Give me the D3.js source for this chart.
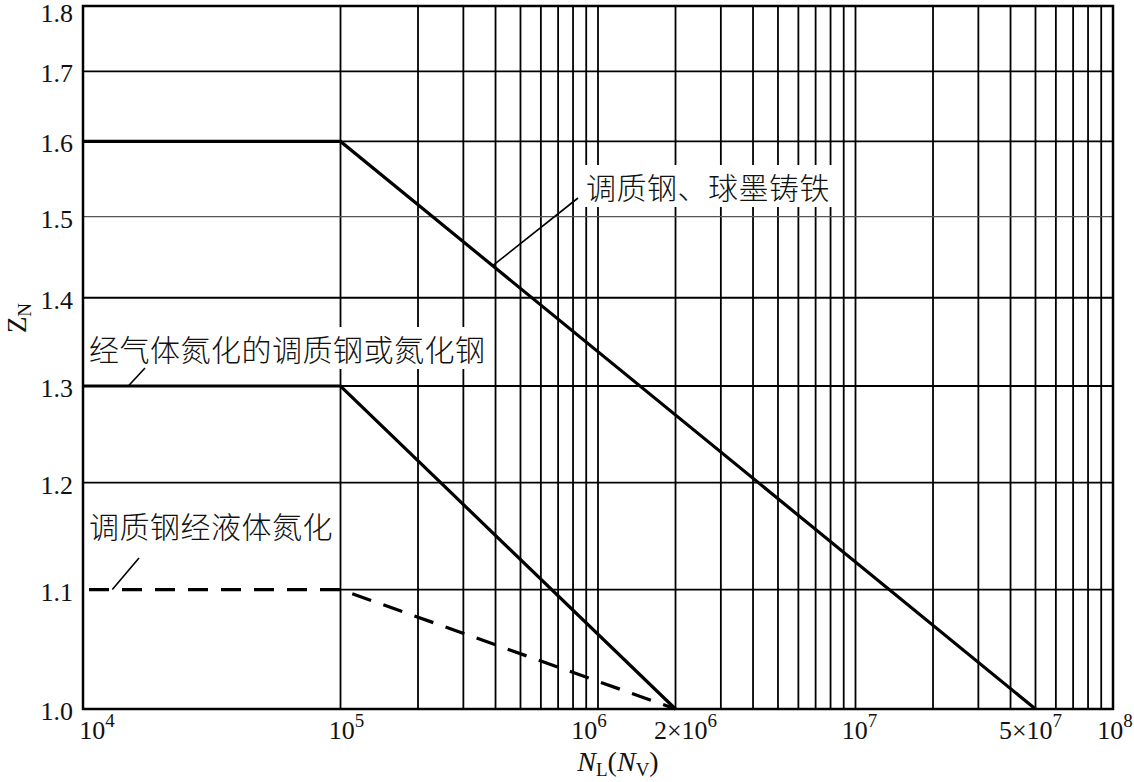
<!DOCTYPE html>
<html><head><meta charset="utf-8">
<script src="https://cdn.jsdelivr.net/npm/d3@7"></script>
<style>
html,body{margin:0;padding:0;background:#fff;}
svg{display:block;}
</style></head>
<body>
<svg id="chart" width="1134" height="782"></svg>
<script>
// ---- data ----
const xDomain = [1e4, 1e8];
const yDomain = [1.0, 1.8];
const yTicks = [1.0, 1.1, 1.2, 1.3, 1.4, 1.5, 1.6, 1.7, 1.8];
const yTickLabels = ["1.0", "1.1", "1.2", "1.3", "1.4", "1.5", "1.6", "1.7", "1.8"];
const xTicks = [1e4, 1e5, 1e6, 2e6, 1e7, 5e7, 1e8];
const xTickLabels = ["10^4", "10^5", "10^6", "2×10^6", "10^7", "5×10^7", "10^8"];

// series: [N, Z_N] breakpoints
const seriesQT = [[1e4, 1.6], [1e5, 1.6], [5e7, 1.0]];     // 调质钢、球墨铸铁
const seriesGasN = [[1e4, 1.3], [1e5, 1.3], [2e6, 1.0]];   // 经气体氮化的调质钢或氮化钢
const seriesLiqN = [[1e4, 1.1], [1e5, 1.1], [2e6, 1.0]];   // 调质钢经液体氮化
const seriesNames = ["调质钢、球墨铸铁", "经气体氮化的调质钢或氮化钢", "调质钢经液体氮化"];

// ---- layout ----
const L = 83, R = 1113, T = 6, B = 709;
const svg = d3.select("#chart");
const x = d3.scaleLog().domain(xDomain).range([L, R]);
// the original's Z_N axis is logarithmic in (Z_N - 0.2)
const Z_SHIFT = 0.2;
const yLog = d3.scaleLog().domain(yDomain.map(v => v - Z_SHIFT)).range([B, T]);
const y = v => yLog(v - Z_SHIFT);

// minor vertical gridlines (from 1e5 onwards)
const vGrid = [];
for (let e = 5; e < 8; e++) for (let m = 1; m <= 9; m++) vGrid.push(m * Math.pow(10, e));
vGrid.push(1e8);

const grid = svg.append("g");
grid.selectAll("line.v").data(vGrid).join("line")
  .attr("x1", d => x(d)).attr("x2", d => x(d))
  .attr("y1", T).attr("y2", B)
  .attr("stroke", "#000").attr("stroke-width", 1.8);
// the gridline under the dashed flat segment is left out, so the dash gaps stay white
const dashFlatEnd = seriesLiqN[1];
grid.selectAll("line.h").data(yTicks).join("line")
  .attr("x1", d => d === dashFlatEnd[1] ? x(dashFlatEnd[0]) : L).attr("x2", R)
  .attr("y1", d => y(d)).attr("y2", d => y(d))
  .attr("stroke", d => d === 1.5 ? "#555" : "#000")
  .attr("stroke-width", d => d === 1.5 ? 1.3 : 1.8);

// annotation labels with white boxes that interrupt gridlines
const serif = "'Liberation Serif','Times New Roman',serif";
const cjk = "'Noto Sans CJK SC','Noto Sans CJK JP',sans-serif";
const labels = [
  {text: seriesNames[0], x: 586, y: 199, series: seriesQT, seg: 1, at: 3.9e5, lx: 578, ly: 198},
  {text: seriesNames[1], x: 89, y: 361, series: seriesGasN, seg: 0, at: 1.5e4, lx: 145, ly: 368},
  {text: seriesNames[2], x: 89, y: 538, series: seriesLiqN, seg: 0, at: 1.3e4, lx: 139, ly: 558}
];
const labG = svg.append("g");
labels.forEach(lb => {
  const t = labG.append("text").attr("x", lb.x).attr("y", lb.y)
    .attr("font-family", cjk).attr("font-size", 30).attr("font-weight", 300)
    .attr("letter-spacing", 0.5)
    .attr("fill", "#111").text(lb.text);
  const bb = t.node().getBBox();
  labG.insert("rect", "text").attr("x", bb.x - 3).attr("y", bb.y + 1)
    .attr("width", bb.width + 6).attr("height", bb.height - 2).attr("fill", "#fff");
});

// frame
svg.append("rect").attr("x", L).attr("y", T).attr("width", R - L).attr("height", B - T)
  .attr("fill", "none").attr("stroke", "#000").attr("stroke-width", 2.5);

// series lines
const line = d3.line().x(d => x(d[0])).y(d => y(d[1]));
svg.append("path").datum(seriesQT).attr("d", line).attr("fill", "none")
  .attr("stroke", "#000").attr("stroke-width", 3.2);
svg.append("path").datum(seriesGasN).attr("d", line).attr("fill", "none")
  .attr("stroke", "#000").attr("stroke-width", 3.2);
svg.append("path").datum(seriesLiqN).attr("d", line).attr("fill", "none")
  .attr("stroke", "#000").attr("stroke-width", 3.2).attr("stroke-dasharray", "20,13")
  .attr("stroke-dashoffset", -6);

// leader lines: from label to a point on the series
labels.forEach(lb => {
  const a = lb.series[lb.seg], b = lb.series[lb.seg + 1];
  const px = x(lb.at);
  const t = (px - x(a[0])) / (x(b[0]) - x(a[0]));
  const py = y(a[1]) + t * (y(b[1]) - y(a[1]));
  svg.append("line").attr("x1", lb.lx).attr("y1", lb.ly).attr("x2", px).attr("y2", py)
    .attr("stroke", "#000").attr("stroke-width", 1.6);
});

// y tick labels
svg.append("g").selectAll("text").data(yTicks).join("text")
  .attr("x", 73).attr("y", d => Math.max(y(d) + 11, 22))
  .attr("text-anchor", "end").attr("font-family", serif).attr("font-size", 26)
  .attr("fill", "#111")
  .text((d, i) => yTickLabels[i]);

// x tick labels with superscripts
const xLabelShift = [14, 6, -9, 10, 4, -5, 2];
const xg = svg.append("g");
xTicks.forEach((v, i) => {
  const [base, exp] = xTickLabels[i].split("^");
  const t = xg.append("text").attr("x", x(v) + xLabelShift[i]).attr("y", 739)
    .attr("text-anchor", "middle").attr("font-family", serif).attr("font-size", 26)
    .attr("fill", "#111");
  t.append("tspan").text(base);
  t.append("tspan").attr("dy", -12).attr("font-size", 19).text(exp);
});

// axis titles
const xt = svg.append("text").attr("x", 618).attr("y", 771).attr("text-anchor", "middle")
  .attr("font-family", serif).attr("font-size", 28).attr("fill", "#111");
xt.append("tspan").attr("font-style", "italic").text("N");
xt.append("tspan").attr("dy", 5).attr("font-size", 19).text("L");
xt.append("tspan").attr("dy", -5).text("(");
xt.append("tspan").attr("font-style", "italic").text("N");
xt.append("tspan").attr("dy", 5).attr("font-size", 19).text("V");
xt.append("tspan").attr("dy", -5).text(")");

const yt = svg.append("text").attr("transform", "translate(26,318) rotate(-90)")
  .attr("text-anchor", "middle").attr("font-family", serif).attr("font-size", 27).attr("fill", "#111");
yt.append("tspan").text("Z");
yt.append("tspan").attr("dy", 5).attr("font-size", 19).text("N");
</script>
</body></html>
